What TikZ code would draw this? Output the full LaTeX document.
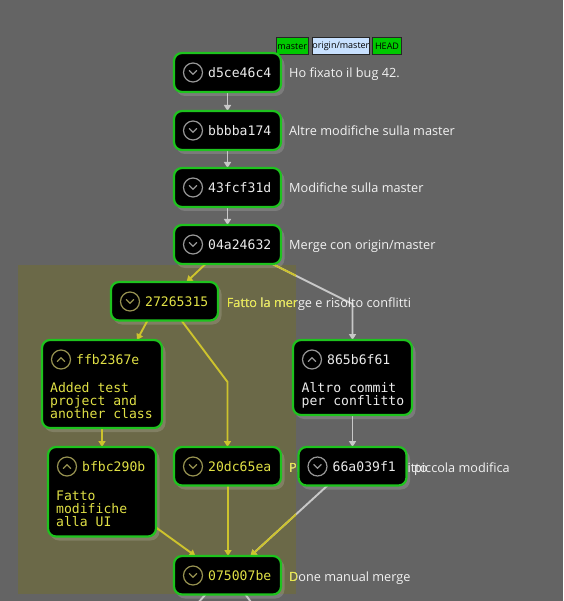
\documentclass[tikz,border=0pt]{standalone}
\usepackage{fontspec}
\setmainfont{Open Sans}
\newfontfamily\hashfont{DejaVu Sans Mono}
\usetikzlibrary{arrows.meta,calc}
\pgfdeclarelayer{bg}
\pgfdeclarelayer{lines}
\pgfsetlayers{bg,lines,main}
\definecolor{canvas}{RGB}{100,100,100}
\definecolor{regioncol}{RGB}{107,105,72}
\definecolor{gline}{RGB}{200,200,200}
\definecolor{yline}{RGB}{205,195,45}
\definecolor{labelw}{RGB}{242,242,242}
\definecolor{labely}{RGB}{232,232,60}
\definecolor{hashw}{RGB}{235,235,235}
\definecolor{hashy}{RGB}{225,225,70}
\definecolor{iconw}{RGB}{150,150,150}
\definecolor{icony}{RGB}{150,145,80}
\definecolor{nborder}{RGB}{30,195,30}
\definecolor{refgreen}{RGB}{0,200,0}
\definecolor{refblue}{RGB}{200,225,255}
\newcommand\commitbox[8]{%
  \node[commit, minimum width=#4pt, minimum height=#5pt] (#1) at (#2,#3) {};
  \begin{pgfonlayer}{bg}
    \fill[nshadow] ($(#1.north west)+(2,3)$) rectangle ($(#1.south east)+(3.5,4)$);
  \end{pgfonlayer}
  \node[icon, draw=icon#7] (#1-icon) at ($(#1.north west)+(19,19.5)$) {};
  \draw[chev, draw=icon#7] ($(#1-icon.center)+(-3.6,{-1.8*#8})$) -- ($(#1-icon.center)+(0,{1.8*#8})$) -- ($(#1-icon.center)+(3.6,{-1.8*#8})$);
  \node[hash, text=hash#7] (#1-hash) at ($(#1.north west)+(34,19.5)$) {#6};
}
\begin{document}
\begin{tikzpicture}[x=1pt,y=-1pt,
  commit/.style={draw=nborder, line width=2.2pt, fill=black, rounded corners=8pt, inner sep=0pt, outer sep=0pt, anchor=north west},
  nshadow/.style={fill=white, fill opacity=0.15, rounded corners=9pt},
  icon/.style={circle, line width=1.2pt, minimum size=19pt, inner sep=0pt},
  chev/.style={line width=1.3pt, line cap=round, line join=round},
  hash/.style={anchor=west, inner sep=0pt, font=\hashfont\fontsize{13.1pt}{13.3pt}\selectfont},
  msg/.style={anchor=base west, inner sep=0pt, font=\hashfont\fontsize{13.1pt}{13.3pt}\selectfont},
  lbl/.style={anchor=base west, inner sep=0pt, font=\fontsize{12.7pt}{15pt}\selectfont},
  refbox/.style={draw=black!85, line width=0.8pt, anchor=north west, minimum height=17pt, inner sep=0pt, font=\fontsize{9pt}{10pt}\selectfont, text=black},
  conn/.style={line width=1.9pt, -{Triangle[width=7pt,length=6pt]}},
  link/.style={line width=1.9pt}
]
\useasboundingbox (0,0) rectangle (563,601);
\begin{pgfonlayer}{bg}
  \fill[canvas] (0,0) rectangle (563,601);
  \fill[regioncol] (18,265) rectangle (296,594);
\end{pgfonlayer}

% ref labels
\node[refbox, fill=refgreen, minimum width=31.7pt] (ref-master) at (276,37.5) {master};
\node[refbox, fill=refblue, minimum width=57.6pt] (ref-origin) at (311.7,37.5) {origin/master};
\node[refbox, fill=refgreen, minimum width=28.7pt] (ref-head) at (372.3,37.5) {HEAD};

% commits
\commitbox{n1}{174}{53}{107}{39}{d5ce46c4}{w}{1}
\commitbox{n2}{174}{111}{107}{39}{bbbba174}{w}{1}
\commitbox{n3}{174}{168}{107}{39}{43fcf31d}{w}{1}
\commitbox{n4}{174}{225}{107}{39}{04a24632}{w}{1}
\commitbox{n5}{111}{282}{107}{38.5}{27265315}{y}{1}
\commitbox{n6}{42}{340}{120}{88}{ffb2367e}{y}{-1}
\commitbox{n7}{293}{340}{119}{75}{865b6f61}{w}{-1}
\commitbox{n8}{48}{447}{108}{89.5}{bfbc290b}{y}{-1}
\commitbox{n9}{174}{447}{107}{38.5}{20dc65ea}{y}{1}
\commitbox{n10}{298.5}{447}{108}{38.5}{66a039f1}{w}{1}
\commitbox{n11}{174}{556}{107}{38.5}{075007be}{y}{1}

% messages inside boxes
\node[msg, text=hashy] (n6-m1) at (50,392) {Added test};
\node[msg, text=hashy] (n6-m2) at (50,405) {project and};
\node[msg, text=hashy] (n6-m3) at (50,418) {another class};
\node[msg, text=hashw] (n7-m1) at (301.5,392) {Altro commit};
\node[msg, text=hashw] (n7-m2) at (301.5,405) {per conflitto};
\node[msg, text=hashy] (n8-m1) at (56,500) {Fatto};
\node[msg, text=hashy] (n8-m2) at (56,513) {modifiche};
\node[msg, text=hashy] (n8-m3) at (56,526) {alla UI};

\coordinate (off1) at (190,612);
\coordinate (off2) at (258,612);

\begin{pgfonlayer}{lines}
  % connectors
  \draw[conn, draw=gline] (n1.south) -- (n2.north);
  \draw[conn, draw=gline] (n2.south) -- (n3.north);
  \draw[conn, draw=gline] (n3.south) -- (n4.north);
  \draw[conn, draw=yline] ($(n4.south)+(-22,0)$) -- ($(n5.north)+(22,0)$);
  \draw[conn, draw=gline] ($(n4.south)+(45,0)$) -- (n7.north |- 0,304) -- (n7.north);
  \draw[conn, draw=yline] ($(n5.south)+(-17,0)$) -- ($(n6.north)+(35,0)$);
  \draw[conn, draw=yline] ($(n5.south)+(17,0)$) -- (n9.north |- 0,382) -- (n9.north);
  \draw[conn, draw=yline] (n6.south) -- (n8.north);
  \draw[conn, draw=gline] (n7.south) -- (n10.north);
  \draw[conn, draw=yline] ($(n8.south east)+(0,-9)$) -- ($(n11.north)+(-32,0)$);
  \draw[conn, draw=yline, line width=2.1pt] ($(n9.south)+(0.5,0)$) -- ($(n11.north)+(0.5,0)$);
  \draw[conn, draw=gline] ($(n10.south)+(-25,0)$) -- ($(n11.north)+(23,0)$);
  \draw[link, draw=gline] ($(n11.south)+(-22,0)$) -- (off1);
  \draw[link, draw=gline] ($(n11.south)+(18,0)$) -- (off2);
  % labels
  \node[lbl, text=labelw] (t1) at (289,78) {Ho fixato il bug 42.};
  \node[lbl, text=labelw] (t2) at (289,136) {Altre modifiche sulla master};
  \node[lbl, text=labelw] (t3) at (289,193) {Modifiche sulla master};
  \node[lbl, text=labelw] (t4) at (289,250) {Merge con origin/master};
  \node[lbl, text=labelw] (t5) at (226.7,307) {Fatto la merge e risolto conflitti};
  \node[lbl, text=labelw] (t9) at (289,472) {Prima prova di conflitto};
  \node[lbl, text=labelw] (t10) at (414,472) {piccola modifica};
  \node[lbl, text=labelw] (t11) at (289,581) {Done manual merge};
  % yellow tint inside the highlighted region
  \begin{scope}
    \clip (18,265) rectangle (296,594);
    \draw[conn, draw=yline] ($(n4.south)+(45,0)$) -- (n7.north |- 0,304) -- (n7.north);
    \draw[conn, draw=yline] ($(n10.south)+(-25,0)$) -- ($(n11.north)+(23,0)$);
    \node[lbl, text=labely] (t5y) at (226.7,307) {Fatto la merge e risolto conflitti};
    \node[lbl, text=labely] (t9y) at (289,472) {Prima prova di conflitto};
    \node[lbl, text=labely] (t11y) at (289,581) {Done manual merge};
  \end{scope}
\end{pgfonlayer}
\end{tikzpicture}
\end{document}
